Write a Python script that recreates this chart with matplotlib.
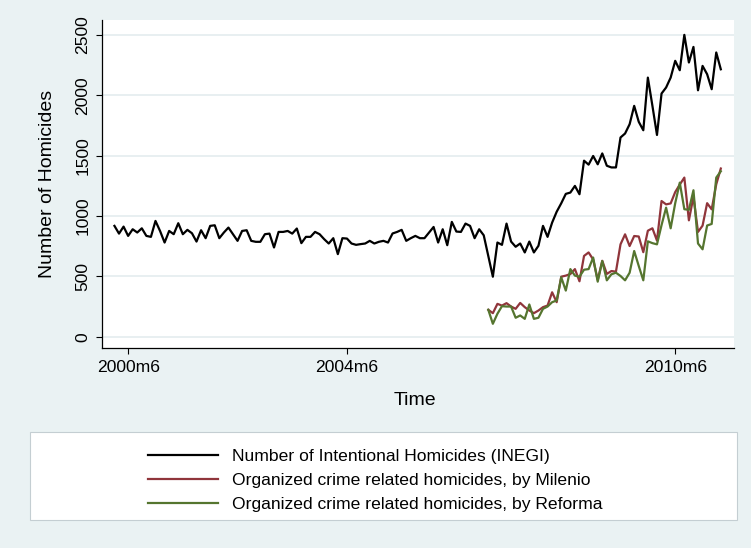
import numpy as np
import matplotlib
matplotlib.use("Agg")
import matplotlib.pyplot as plt
from matplotlib.patches import Rectangle

# ------------------ Data (monthly) ------------------
# INEGI intentional homicides, 2000m3 .. 2011m4
inegi = [918, 854, 912, 835, 890, 863, 898, 835, 827, 959, 876, 780, 876, 849, 940, 849,
         885, 857, 788, 882, 816, 918, 923, 816, 863, 904, 849, 794, 876, 882, 794,
         786, 786, 849, 854, 739, 868, 868, 876, 854, 896, 775, 827, 827, 868, 849, 808,
         772, 816, 684, 816, 813, 772, 761, 767, 772, 794, 772, 786, 794, 780, 855, 868,
         885, 794, 816, 835, 816, 816, 863, 909, 780, 890, 758, 951, 871, 868, 937, 918,
         816, 890, 840, 670, 497, 780, 761, 937, 788, 745, 772, 698, 788, 698, 753, 918,
         827, 945, 1035, 1105, 1183, 1194, 1249, 1180, 1458, 1425, 1497, 1428, 1518, 1416,
         1402, 1402, 1650, 1683, 1760, 1912,
         1780, 1710, 2146, 1912, 1671, 2014, 2064, 2146, 2285, 2207, 2500, 2271, 2400,
         2041, 2243, 2174, 2050, 2354, 2215]
inegi_start = "2000m3"

# Organized crime related homicides, 2007m1 .. 2011m4
milenio = [223, 195, 272, 258, 278, 250, 231, 280, 245, 217, 195, 217, 245, 258, 368,
           286, 497, 506, 519, 560, 459, 669, 698, 640, 470, 629, 520, 544, 539, 765,
           848, 751, 834, 830, 700, 878, 898, 796, 1124, 1096, 1104, 1198, 1260, 1318,
           964, 1160, 868, 920, 1106, 1055, 1262, 1393]
reforma = [223, 107, 190, 253, 250, 250, 157, 176, 148, 267, 148, 157, 231, 250, 286,
           300, 492, 382, 560, 506, 497, 555, 560, 656, 456, 627, 467, 517, 530, 503,
           467, 530, 710, 586, 467, 790, 775, 765, 924, 1069, 898, 1106, 1276, 1056,
           1051, 1213, 772, 724, 921, 934, 1318, 1370]
press_start = "2007m1"

xtick_labels = ["2000m6", "2004m6", "2010m6"]
ytick_values = [0, 500, 1000, 1500, 2000, 2500]

series_labels = ["Number of Intentional Homicides (INEGI)",
                 "Organized crime related homicides, by Milenio",
                 "Organized crime related homicides, by Reforma"]


def stata_month(s):
    # Stata style monthly date: months since 1960m1
    y, m = s.split("m")
    return 12 * (int(y) - 1960) + int(m) - 1


t_inegi = stata_month(inegi_start) + np.arange(len(inegi))
t_press = stata_month(press_start) + np.arange(len(milenio))

# ------------------ Style ------------------
bg = "#EAF2F3"
grid_col = "#E6EEF0"
col_black = "black"
col_red = "#90353B"
col_green = "#55752F"
plt.rcParams["font.family"] = ["Liberation Sans", "DejaVu Sans"]

fig = plt.figure(figsize=(7.51, 5.48), dpi=100)
fig.patch.set_facecolor(bg)
ax = fig.add_axes([0.1354, 0.3655, 0.842, 0.5982])
ax.set_facecolor("white")

ax.plot(t_inegi, inegi, color=col_black, lw=1.6, label=series_labels[0], zorder=3)
ax.plot(t_press, milenio, color=col_red, lw=1.6, label=series_labels[1], zorder=3)
ax.plot(t_press, reforma, color=col_green, lw=1.6, label=series_labels[2], zorder=4)

# Axes ranges
ax.set_xlim(479.2, 617.9)
ax.set_ylim(-91, 2624)

ax.set_xticks([stata_month(s) for s in xtick_labels])
ax.set_xticklabels(xtick_labels)
ax.set_yticks(ytick_values)
ax.set_yticklabels([str(v) for v in ytick_values], rotation=90, va="center")
ax.tick_params(axis="both", direction="out", length=4, width=0.8, labelsize=12.6,
               color="black")
ax.tick_params(axis="x", pad=4.5)
ax.tick_params(axis="y", pad=4)

ax.yaxis.grid(True, color=grid_col, lw=1.3)
ax.set_axisbelow(True)
for side in ["top", "right"]:
    ax.spines[side].set_visible(False)
for side in ["left", "bottom"]:
    ax.spines[side].set_linewidth(0.9)

ax.set_xlabel("Time", fontsize=14)
ax.set_ylabel("Number of Homicides", fontsize=14)
ax.xaxis.set_label_coords(0.496, -0.136)
ax.yaxis.set_label_coords(-0.073, 0.5)

# Legend box (white, Stata style)
W, H = 751.0, 548.0
box = Rectangle((30 / W, 1 - 520 / H), (737 - 30) / W, (520 - 432) / H,
                transform=fig.transFigure, facecolor="white", edgecolor="#C4CED2",
                lw=0.8, zorder=1)
fig.patches.append(box)

leg = fig.legend(loc="upper left", bbox_to_anchor=(141 / W, 1 - 442 / H),
                 frameon=False, fontsize=12.6, handlelength=4.0, handletextpad=0.82,
                 labelspacing=0.5, borderaxespad=0)

fig.savefig("out.png", dpi=100, facecolor=bg)
